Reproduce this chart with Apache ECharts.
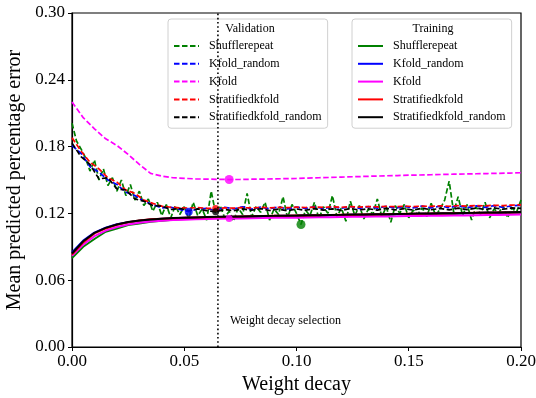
<!DOCTYPE html>
<html>
<head>
<meta charset="utf-8">
<script src="https://cdn.jsdelivr.net/npm/echarts@6/dist/echarts.min.js"></script>
<style>
  html, body { margin: 0; padding: 0; background: #fff; }
  #chart { width: 536px; height: 398px; }
</style>
</head>
<body>
<div id="chart"></div>
<script>
// x sampling steps of the curves
const stepGreenVal = 0.002;
const stepVal = 0.004;
const stepKfoldVal = 0.005;
const stepTrain = 0.005;

const selection = 0.065;
const xTicks = [0, 0.05, 0.1, 0.15, 0.2];
const yTicks = [0, 0.06, 0.12, 0.18, 0.24, 0.3];

// validation curves
const valShufflerepeat = [
  0.201, 0.185, 0.178, 0.170, 0.158, 0.168, 0.150, 0.160, 0.145, 0.152,
  0.140, 0.150, 0.136, 0.146, 0.132, 0.140, 0.127, 0.133, 0.122, 0.130,
  0.118, 0.128, 0.116, 0.127, 0.119, 0.126, 0.115, 0.130, 0.118, 0.124,
  0.114, 0.140, 0.120, 0.127, 0.116, 0.122, 0.113, 0.125, 0.119, 0.138,
  0.117, 0.126, 0.121, 0.130, 0.114, 0.124, 0.119, 0.135, 0.116, 0.128,
  0.120, 0.110, 0.123, 0.118, 0.130, 0.115, 0.126, 0.120, 0.136, 0.117,
  0.125, 0.113, 0.131, 0.118, 0.127, 0.115, 0.124, 0.119, 0.133, 0.117,
  0.126, 0.112, 0.127, 0.120, 0.128, 0.116, 0.123, 0.119, 0.125, 0.117,
  0.129, 0.118, 0.124, 0.132, 0.149, 0.121, 0.135, 0.118, 0.128, 0.114,
  0.126, 0.119, 0.130, 0.116, 0.124, 0.120, 0.127, 0.116, 0.125, 0.121,
  0.132
];
const valKfoldRandom = [
  0.181, 0.174, 0.162, 0.157, 0.150, 0.146, 0.139, 0.136, 0.131, 0.128,
  0.125, 0.1255, 0.1235, 0.1215, 0.124, 0.1245, 0.1225, 0.1255, 0.124, 0.126,
  0.1238, 0.1256, 0.1242, 0.1258, 0.124, 0.1257, 0.1244, 0.126, 0.1243, 0.1259,
  0.1246, 0.1262, 0.1245, 0.1261, 0.1248, 0.1264, 0.1247, 0.1263, 0.125, 0.1266,
  0.1249, 0.1265, 0.1252, 0.1268, 0.1251, 0.1267, 0.1254, 0.127, 0.1253, 0.1269,
  0.1272
];
const valKfold = [
  0.220, 0.206, 0.196, 0.187, 0.181, 0.173, 0.164, 0.156, 0.1535, 0.152,
  0.1515, 0.151, 0.1508, 0.1506, 0.1504, 0.1505, 0.1507, 0.1508, 0.151, 0.1512,
  0.1514, 0.1517, 0.152, 0.1523, 0.1526, 0.1529, 0.1532, 0.1535, 0.1538, 0.154,
  0.1543, 0.1545, 0.1547, 0.155, 0.1552, 0.1554, 0.1556, 0.1558, 0.156, 0.1562,
  0.1565
];
const valStratified = [
  0.188, 0.176, 0.166, 0.160, 0.152, 0.148, 0.141, 0.138, 0.132, 0.129,
  0.1265, 0.1255, 0.125, 0.1248, 0.1252, 0.1246, 0.1243, 0.1250, 0.1247, 0.1252,
  0.1249, 0.1254, 0.1250, 0.1255, 0.1251, 0.1256, 0.1253, 0.1257, 0.1254, 0.1259,
  0.1255, 0.1260, 0.1257, 0.1262, 0.1258, 0.1263, 0.1260, 0.1265, 0.1261, 0.1266,
  0.1263, 0.1268, 0.1264, 0.1269, 0.1266, 0.1271, 0.1268, 0.1273, 0.1270, 0.1275,
  0.1277
];
const valStratifiedRandom = [
  0.183, 0.171, 0.164, 0.151, 0.152, 0.142, 0.141, 0.133, 0.131, 0.127,
  0.1265, 0.1235, 0.1245, 0.1225, 0.124, 0.1225, 0.1215, 0.1235, 0.1225, 0.124,
  0.1228, 0.1242, 0.1226, 0.1238, 0.1224, 0.124, 0.1228, 0.1243, 0.1229, 0.1241,
  0.1227, 0.1244, 0.123, 0.1242, 0.1229, 0.1245, 0.1231, 0.1243, 0.123, 0.1246,
  0.1233, 0.1245, 0.1232, 0.1247, 0.1234, 0.1248, 0.1235, 0.1249, 0.1237, 0.125,
  0.1245
];

// training curves
const trainShufflerepeat = [
  0.080, 0.090, 0.097, 0.1035, 0.1065, 0.1095, 0.1110, 0.1125, 0.1135, 0.1142,
  0.1150, 0.1155, 0.1160, 0.1163, 0.1166, 0.1168, 0.1171, 0.1172, 0.1175, 0.1176,
  0.1178, 0.1180, 0.1181, 0.1183, 0.1184, 0.1186, 0.1187, 0.1189, 0.1190, 0.1192,
  0.1193, 0.1195, 0.1196, 0.1198, 0.1199, 0.1201, 0.1202, 0.1204, 0.1205, 0.1207,
  0.1208
];
const trainKfoldRandom = [
  0.085, 0.0955, 0.1028, 0.1072, 0.1102, 0.1121, 0.1135, 0.1145, 0.1151, 0.1156,
  0.1160, 0.1163, 0.1165, 0.1167, 0.1169, 0.1171, 0.1173, 0.1175, 0.1176, 0.1178,
  0.1179, 0.1181, 0.1182, 0.1184, 0.1185, 0.1187, 0.1188, 0.1190, 0.1191, 0.1193,
  0.1194, 0.1196, 0.1197, 0.1199, 0.1200, 0.1202, 0.1203, 0.1205, 0.1206, 0.1208,
  0.1209
];
const trainKfold = [
  0.082, 0.092, 0.0995, 0.1045, 0.1078, 0.1100, 0.1116, 0.1127, 0.1135, 0.1140,
  0.1144, 0.1147, 0.1150, 0.1152, 0.1154, 0.1155, 0.1157, 0.1158, 0.1160, 0.1161,
  0.1162, 0.1164, 0.1165, 0.1166, 0.1168, 0.1169, 0.1170, 0.1172, 0.1173, 0.1174,
  0.1176, 0.1177, 0.1178, 0.1180, 0.1181, 0.1182, 0.1184, 0.1185, 0.1186, 0.1188,
  0.1190
];
const trainStratified = [
  0.083, 0.094, 0.102, 0.1065, 0.1098, 0.1120, 0.1136, 0.1147, 0.1152, 0.1157,
  0.1160, 0.1163, 0.1166, 0.1168, 0.1170, 0.1172, 0.1174, 0.1176, 0.1178, 0.1179,
  0.1181, 0.1182, 0.1184, 0.1185, 0.1187, 0.1188, 0.1190, 0.1191, 0.1193, 0.1194,
  0.1196, 0.1197, 0.1199, 0.1200, 0.1202, 0.1203, 0.1205, 0.1206, 0.1208, 0.1209,
  0.1211
];
const trainStratifiedRandom = [
  0.084, 0.095, 0.1025, 0.107, 0.110, 0.1122, 0.1137, 0.1146, 0.1153, 0.1158,
  0.1161, 0.1164, 0.1167, 0.1169, 0.1171, 0.1173, 0.1175, 0.1177, 0.1178, 0.1180,
  0.1181, 0.1183, 0.1184, 0.1186, 0.1187, 0.1189, 0.1190, 0.1192, 0.1193, 0.1195,
  0.1196, 0.1198, 0.1199, 0.1201, 0.1202, 0.1204, 0.1205, 0.1207, 0.1208, 0.1210,
  0.1212
];

// selected points (x, y)
const dotShufflerepeat = [0.102, 0.110];
const dotKfoldRandom = [0.052, 0.1215];
const dotKfold = [0.070, 0.1504];
const dotKfoldTrain = [0.070, 0.1154];
const dotStratified = [0.064, 0.1243];
const dotStratifiedRandom = [0.064, 0.1215];

const names = ['Shufflerepeat', 'Kfold_random', 'Kfold', 'Stratifiedkfold', 'Stratifiedkfold_random'];
const colors = ['#008000', '#0000ff', '#ff00ff', '#ff0000', '#000000'];

const FONT = 'Liberation Serif';

function pairs(values, step) {
  return values.map((v, i) => [+(i * step).toFixed(4), v]);
}

const valData = [
  pairs(valShufflerepeat, stepGreenVal),
  pairs(valKfoldRandom, stepVal),
  pairs(valKfold, stepKfoldVal),
  pairs(valStratified, stepVal),
  pairs(valStratifiedRandom, stepVal)
];
const trainData = [trainShufflerepeat, trainKfoldRandom, trainKfold, trainStratified, trainStratifiedRandom]
  .map(v => pairs(v, stepTrain));

const series = [];
names.forEach((n, i) => {
  series.push({
    name: 'V:' + n,
    type: 'line',
    data: valData[i],
    symbol: 'none',
    color: colors[i],
    lineStyle: { color: colors[i], width: 1.7, type: [5.5, 2.5] },
    z: 2
  });
});
names.forEach((n, i) => {
  series.push({
    name: 'T:' + n,
    type: 'line',
    data: trainData[i],
    symbol: 'none',
    color: colors[i],
    lineStyle: { color: colors[i], width: 2 },
    z: 3
  });
});

// vertical selection line
series.push({
  type: 'line',
  data: [[selection, yTicks[0]], [selection, yTicks[yTicks.length - 1]]],
  symbol: 'none',
  silent: true,
  lineStyle: { color: '#000', width: 1.6, type: [1.6, 2.6] },
  z: 5
});

const dots = [
  [dotShufflerepeat, colors[0], 9],
  [dotKfoldRandom, colors[1], 8],
  [dotKfold, colors[2], 9],
  [dotKfoldTrain, colors[2], 7],
  [dotStratified, colors[3], 7],
  [dotStratifiedRandom, colors[4], 7]
];
dots.forEach(d => {
  series.push({
    type: 'scatter',
    data: [d[0]],
    symbolSize: d[2],
    itemStyle: { color: d[1] },
    z: 4
  });
});

function legend(prefix, left) {
  return {
    orient: 'vertical',
    left: left,
    top: 19,
    padding: [21, 6, 5, 5],
    itemWidth: 25,
    itemHeight: 12,
    itemGap: 5.8,
    itemStyle: { opacity: 0 },
    data: names.map(n => prefix + n),
    formatter: name => name.slice(2),
    textStyle: { fontFamily: FONT, fontSize: 12, color: '#000', padding: [0, 0, 0, 5] },
    backgroundColor: 'rgba(255,255,255,0.8)',
    borderColor: '#d0d0d0',
    borderWidth: 1,
    borderRadius: 3,
    selectedMode: false
  };
}

const chart = echarts.init(document.getElementById('chart'));
chart.setOption({
  animation: false,
  backgroundColor: '#fff',
  grid: {
    left: 72, right: 15, top: 13, bottom: 51,
    outerBoundsMode: 'none',
    show: true, borderColor: '#000', borderWidth: 1.2, backgroundColor: 'transparent'
  },
  legend: [legend('V:', 168), legend('T:', 352)],
  graphic: [
    { type: 'text', x: 250, y: 29, z: 100, style: { text: 'Validation', fontFamily: FONT, fontSize: 12, fill: '#000', textAlign: 'center', textVerticalAlign: 'middle' } },
    { type: 'text', x: 433, y: 29, z: 100, style: { text: 'Training', fontFamily: FONT, fontSize: 12, fill: '#000', textAlign: 'center', textVerticalAlign: 'middle' } },
    { type: 'text', x: 230, y: 321, z: 100, style: { text: 'Weight decay selection', fontFamily: FONT, fontSize: 12, fill: '#000', textAlign: 'left', textVerticalAlign: 'middle' } }
  ],
  xAxis: {
    type: 'value',
    min: xTicks[0],
    max: xTicks[xTicks.length - 1],
    interval: 0.05,
    name: 'Weight decay',
    nameLocation: 'middle',
    nameGap: 27,
    nameTextStyle: { fontFamily: FONT, fontSize: 20, color: '#000' },
    axisLine: { lineStyle: { color: '#000', width: 1.2 } },
    axisTick: { length: 4, lineStyle: { color: '#000' } },
    axisLabel: { fontFamily: FONT, fontSize: 17, color: '#000', margin: 6, formatter: v => v.toFixed(2) },
    splitLine: { show: false }
  },
  yAxis: {
    type: 'value',
    min: yTicks[0],
    max: yTicks[yTicks.length - 1],
    interval: 0.06,
    name: 'Mean predicted percentage error',
    nameLocation: 'middle',
    nameGap: 40,
    nameTextStyle: { fontFamily: FONT, fontSize: 20, color: '#000' },
    axisLine: { show: true, lineStyle: { color: '#000', width: 1.2 } },
    axisTick: { show: true, length: 4, lineStyle: { color: '#000' } },
    axisLabel: { fontFamily: FONT, fontSize: 17, color: '#000', margin: 7, formatter: v => v.toFixed(2) },
    splitLine: { show: false }
  },
  series: series
});
</script>
</body>
</html>
